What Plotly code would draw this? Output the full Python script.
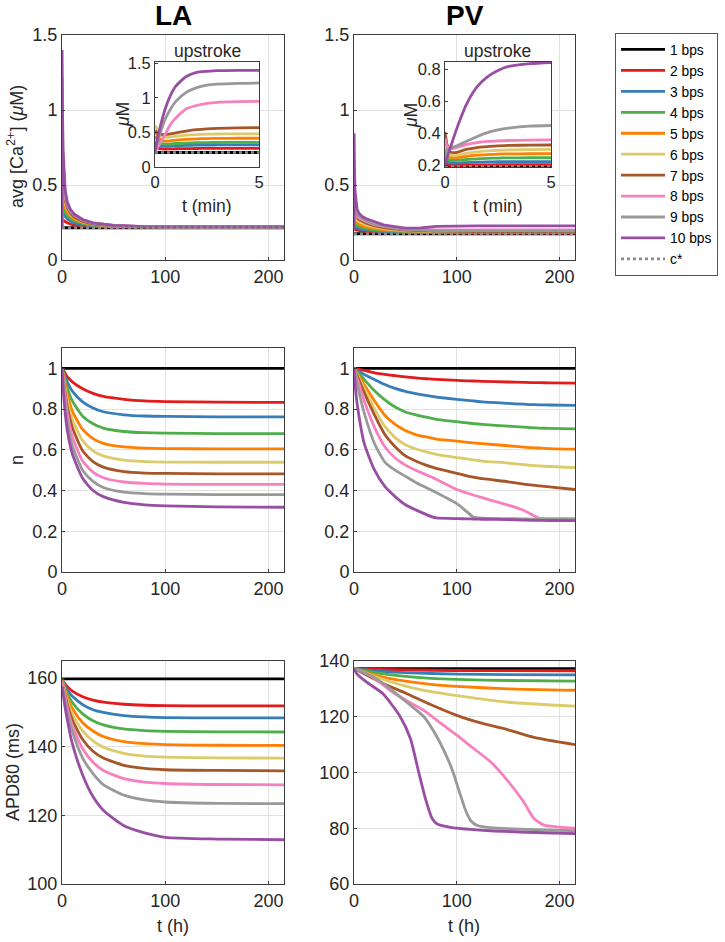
import plotly.graph_objects as go

W, H = 725, 942
FONT = "Liberation Sans, Arial, Helvetica, sans-serif"
TXT = "#262626"

NAMES = ["1 bps", "2 bps", "3 bps", "4 bps", "5 bps", "6 bps", "7 bps", "8 bps", "9 bps", "10 bps"]
COLORS = ["#000000", "#e41a1c", "#377eb8", "#4daf4a", "#ff7f00", "#dccb6a",
          "#a65628", "#f781bf", "#999999", "#984ea3"]

# ---------------- Ca, LA (main, hours) ----------------
T_CA_LA = [0, 0.083, 0.5, 1, 2, 3, 5, 8, 12, 20, 30, 50, 80, 120, 215]
CA_LA = [
    [0.215] * 15,
    [0.28, 0.27, 0.268, 0.265, 0.26, 0.255, 0.248, 0.24, 0.233, 0.226, 0.222, 0.22, 0.22, 0.22, 0.22],
    [0.36, 0.32, 0.315, 0.31, 0.30, 0.29, 0.275, 0.26, 0.248, 0.235, 0.227, 0.222, 0.22, 0.22, 0.22],
    [0.42, 0.357, 0.35, 0.345, 0.33, 0.318, 0.298, 0.278, 0.262, 0.243, 0.232, 0.224, 0.221, 0.22, 0.22],
    [0.50, 0.416, 0.40, 0.39, 0.37, 0.35, 0.32, 0.295, 0.272, 0.25, 0.236, 0.225, 0.221, 0.22, 0.22],
    [0.60, 0.48, 0.45, 0.43, 0.40, 0.375, 0.34, 0.305, 0.28, 0.254, 0.238, 0.226, 0.222, 0.22, 0.22],
    [0.53, 0.57, 0.52, 0.48, 0.43, 0.395, 0.35, 0.312, 0.285, 0.257, 0.24, 0.227, 0.222, 0.22, 0.22],
    [0.22, 0.95, 0.75, 0.60, 0.48, 0.42, 0.365, 0.325, 0.297, 0.266, 0.246, 0.23, 0.223, 0.22, 0.22],
    [0.22, 1.216, 0.90, 0.68, 0.52, 0.44, 0.375, 0.33, 0.30, 0.267, 0.246, 0.23, 0.223, 0.22, 0.22],
    [0.22, 1.40, 1.00, 0.74, 0.56, 0.47, 0.39, 0.34, 0.305, 0.27, 0.248, 0.231, 0.223, 0.22, 0.22],
]
CSTAR_LA = 0.215

# ---------------- Ca, PV (main, hours) ----------------
T_CA_PV = [0, 0.083, 0.5, 1, 2, 3, 5, 8, 12, 20, 30, 50, 65, 80, 120, 215]
CA_PV = [
    [0.175] * 16,
    [0.23, 0.204, 0.203, 0.202, 0.2, 0.198, 0.195, 0.192, 0.19, 0.187, 0.185, 0.182, 0.181, 0.18, 0.18, 0.18],
    [0.26, 0.224, 0.222, 0.22, 0.216, 0.213, 0.208, 0.203, 0.198, 0.193, 0.19, 0.186, 0.185, 0.184, 0.184, 0.184],
    [0.29, 0.248, 0.244, 0.24, 0.235, 0.23, 0.222, 0.215, 0.208, 0.2, 0.195, 0.189, 0.187, 0.186, 0.186, 0.186],
    [0.32, 0.274, 0.268, 0.262, 0.255, 0.248, 0.238, 0.229, 0.22, 0.209, 0.201, 0.192, 0.19, 0.188, 0.188, 0.188],
    [0.35, 0.30, 0.29, 0.283, 0.273, 0.265, 0.255, 0.244, 0.233, 0.219, 0.208, 0.196, 0.192, 0.19, 0.189, 0.189],
    [0.41, 0.328, 0.31, 0.30, 0.29, 0.282, 0.27, 0.258, 0.245, 0.228, 0.215, 0.2, 0.195, 0.192, 0.19, 0.19],
    [0.37, 0.36, 0.33, 0.31, 0.295, 0.288, 0.28, 0.268, 0.255, 0.235, 0.222, 0.205, 0.2, 0.2, 0.2, 0.2],
    [0.22, 0.45, 0.38, 0.34, 0.31, 0.30, 0.29, 0.275, 0.26, 0.24, 0.225, 0.205, 0.2, 0.197, 0.196, 0.195],
    [0.20, 0.845, 0.60, 0.46, 0.37, 0.34, 0.31, 0.29, 0.275, 0.255, 0.232, 0.213, 0.214, 0.224, 0.227, 0.227],
]
CSTAR_PV = 0.175

# ---------------- upstroke insets (minutes) ----------------
T_UP = [0, 0.1, 0.25, 0.5, 0.75, 1, 1.5, 2, 2.5, 3, 4, 5]
UP_LA = [
    [0.21] * 12,
    [0.29, 0.28, 0.265, 0.26, 0.262, 0.264, 0.266, 0.268, 0.269, 0.27, 0.27, 0.27],
    [0.37, 0.34, 0.31, 0.30, 0.303, 0.308, 0.313, 0.316, 0.318, 0.319, 0.32, 0.32],
    [0.44, 0.40, 0.35, 0.33, 0.333, 0.34, 0.347, 0.351, 0.354, 0.355, 0.357, 0.357],
    [0.52, 0.46, 0.40, 0.375, 0.38, 0.39, 0.40, 0.408, 0.412, 0.414, 0.416, 0.416],
    [0.60, 0.55, 0.47, 0.43, 0.435, 0.445, 0.46, 0.47, 0.475, 0.478, 0.48, 0.48],
    [0.53, 0.50, 0.475, 0.47, 0.48, 0.495, 0.52, 0.54, 0.553, 0.56, 0.567, 0.57],
    [0.22, 0.27, 0.35, 0.48, 0.62, 0.71, 0.84, 0.89, 0.92, 0.935, 0.945, 0.95],
    [0.22, 0.34, 0.49, 0.70, 0.84, 0.95, 1.08, 1.15, 1.185, 1.20, 1.212, 1.216],
    [0.22, 0.38, 0.58, 0.85, 1.04, 1.17, 1.31, 1.37, 1.385, 1.395, 1.40, 1.40],
]
CSTAR_UP_LA = 0.21
UP_PV = [
    [0.193] * 12,
    [0.23, 0.205, 0.2, 0.2, 0.201, 0.202, 0.203, 0.203, 0.204, 0.204, 0.204, 0.204],
    [0.26, 0.225, 0.215, 0.214, 0.216, 0.218, 0.22, 0.222, 0.223, 0.224, 0.224, 0.224],
    [0.29, 0.245, 0.232, 0.231, 0.234, 0.237, 0.241, 0.244, 0.246, 0.247, 0.248, 0.248],
    [0.32, 0.27, 0.25, 0.248, 0.252, 0.257, 0.264, 0.268, 0.271, 0.272, 0.273, 0.274],
    [0.35, 0.29, 0.265, 0.262, 0.268, 0.275, 0.285, 0.291, 0.295, 0.297, 0.299, 0.30],
    [0.41, 0.33, 0.285, 0.28, 0.29, 0.30, 0.312, 0.318, 0.322, 0.325, 0.327, 0.328],
    [0.37, 0.32, 0.305, 0.31, 0.32, 0.33, 0.342, 0.35, 0.354, 0.356, 0.358, 0.36],
    [0.22, 0.30, 0.31, 0.32, 0.335, 0.35, 0.38, 0.405, 0.422, 0.433, 0.446, 0.45],
    [0.20, 0.25, 0.31, 0.41, 0.50, 0.58, 0.69, 0.755, 0.795, 0.82, 0.838, 0.845],
]
CSTAR_UP_PV = 0.193

# ---------------- n, LA ----------------
T_N_LA = [0, 2, 5, 10, 20, 30, 40, 60, 80, 100, 150, 215]
N_LA = [
    [1.0] * 12,
    [1, 0.985, 0.96, 0.934, 0.90, 0.877, 0.862, 0.848, 0.840, 0.837, 0.834, 0.833],
    [1, 0.975, 0.935, 0.888, 0.835, 0.805, 0.787, 0.772, 0.766, 0.764, 0.762, 0.762],
    [1, 0.962, 0.905, 0.84, 0.765, 0.728, 0.707, 0.69, 0.684, 0.682, 0.680, 0.680],
    [1, 0.95, 0.875, 0.79, 0.70, 0.655, 0.632, 0.614, 0.608, 0.606, 0.605, 0.605],
    [1, 0.935, 0.845, 0.75, 0.645, 0.595, 0.57, 0.549, 0.542, 0.540, 0.539, 0.539],
    [1, 0.92, 0.815, 0.71, 0.595, 0.542, 0.515, 0.493, 0.486, 0.484, 0.482, 0.482],
    [1, 0.905, 0.785, 0.665, 0.545, 0.49, 0.463, 0.442, 0.435, 0.432, 0.430, 0.430],
    [1, 0.88, 0.745, 0.62, 0.50, 0.445, 0.415, 0.392, 0.385, 0.382, 0.380, 0.380],
    [1, 0.84, 0.70, 0.58, 0.46, 0.40, 0.37, 0.342, 0.330, 0.325, 0.320, 0.318],
]

# ---------------- n, PV ----------------
T_N_PV = [0, 2, 5, 10, 20, 30, 40, 50, 60, 70, 76, 80, 100, 110, 116, 125, 150, 165, 172, 180, 190, 215]
N_PV = [
    [1.0] * 22,
    [1, 0.998, 0.995, 0.99, 0.978, 0.97, 0.964, 0.958, 0.953, 0.949, 0.947, 0.946, 0.941, 0.939, 0.938, 0.936, 0.933, 0.931, 0.93, 0.93, 0.929, 0.928],
    [1, 0.995, 0.985, 0.97, 0.945, 0.921, 0.902, 0.887, 0.876, 0.867, 0.862, 0.859, 0.848, 0.843, 0.84, 0.835, 0.828, 0.824, 0.822, 0.821, 0.82, 0.818],
    [1, 0.99, 0.975, 0.945, 0.89, 0.845, 0.81, 0.786, 0.772, 0.76, 0.754, 0.75, 0.738, 0.732, 0.729, 0.725, 0.716, 0.711, 0.709, 0.707, 0.705, 0.703],
    [1, 0.985, 0.96, 0.92, 0.84, 0.77, 0.725, 0.695, 0.675, 0.663, 0.657, 0.653, 0.643, 0.637, 0.634, 0.63, 0.62, 0.613, 0.611, 0.609, 0.606, 0.603],
    [1, 0.98, 0.95, 0.90, 0.80, 0.715, 0.66, 0.625, 0.605, 0.59, 0.583, 0.578, 0.562, 0.555, 0.551, 0.545, 0.535, 0.527, 0.524, 0.521, 0.518, 0.513],
    [1, 0.975, 0.94, 0.88, 0.77, 0.675, 0.615, 0.57, 0.545, 0.525, 0.515, 0.509, 0.484, 0.472, 0.466, 0.458, 0.443, 0.432, 0.428, 0.423, 0.418, 0.405],
    [1, 0.965, 0.92, 0.84, 0.71, 0.615, 0.56, 0.525, 0.50, 0.478, 0.465, 0.456, 0.405, 0.388, 0.378, 0.365, 0.328, 0.303, 0.285, 0.265, 0.262, 0.262],
    [1, 0.95, 0.88, 0.78, 0.63, 0.54, 0.50, 0.47, 0.44, 0.415, 0.40, 0.39, 0.336, 0.295, 0.27, 0.264, 0.262, 0.261, 0.26, 0.26, 0.26, 0.259],
    [1, 0.87, 0.76, 0.63, 0.50, 0.42, 0.37, 0.33, 0.305, 0.283, 0.271, 0.266, 0.262, 0.261, 0.26, 0.259, 0.257, 0.255, 0.254, 0.254, 0.253, 0.252],
]

# ---------------- APD80, LA ----------------
T_APD_LA = [0, 2, 5, 10, 20, 30, 40, 60, 80, 100, 150, 215]
APD_LA = [
    [159.8] * 12,
    [159.5, 158.7, 157.6, 156.2, 154.6, 153.6, 153.0, 152.4, 152.1, 152.0, 151.9, 151.9],
    [159.5, 158.4, 156.7, 154.7, 152.3, 150.8, 150.0, 149.1, 148.7, 148.5, 148.4, 148.4],
    [159.4, 157.9, 155.6, 152.9, 149.6, 147.6, 146.4, 145.2, 144.7, 144.5, 144.35, 144.3],
    [159.3, 157.4, 154.6, 151.2, 147.0, 144.6, 143.0, 141.5, 140.9, 140.6, 140.45, 140.4],
    [159.2, 157.0, 153.6, 149.5, 144.6, 141.7, 139.9, 138.1, 137.3, 137.0, 136.75, 136.7],
    [159.1, 156.5, 152.6, 147.9, 142.1, 138.7, 136.7, 134.6, 133.7, 133.3, 133.1, 133.0],
    [159.0, 156.0, 151.5, 146.1, 139.4, 135.5, 133.1, 130.7, 129.7, 129.3, 129.0, 128.9],
    [158.0, 155.0, 150.1, 144.5, 136.7, 132.2, 129.0, 125.9, 124.5, 123.9, 123.5, 123.4],
    [157.5, 153.5, 148.1, 140.9, 131.8, 125.5, 121.5, 117.0, 114.9, 113.6, 113.1, 112.9],
]

# ---------------- APD80, PV (own time samples per rate) ----------------
T_APD_PV = [
    [0, 215],
    [0, 25, 50, 100, 150, 215],
    [0, 25, 50, 100, 150, 215],
    [0, 25, 50, 75, 100, 150, 215],
    [0, 25, 50, 75, 100, 150, 215],
    [0, 25, 50, 75, 100, 150, 215],
    [0, 25, 50, 75, 100, 125, 150, 175, 215],
    [0, 10, 20, 35, 50, 68, 85, 100, 115, 133, 149, 165, 175, 185, 200, 215],
    [0, 19, 35, 51, 68, 78, 88, 96, 103, 109, 114, 120, 133, 215],
    [0, 2.6, 12, 28, 45, 55, 63, 70, 76, 81, 94, 133, 215],
]
APD_PV = [
    [137.3, 137.3],
    [137.3, 137.0, 136.8, 136.6, 136.55, 136.5],
    [137.3, 136.4, 135.8, 135.3, 135.1, 135.0],
    [137.3, 135.6, 134.5, 133.8, 133.4, 133.0, 132.8],
    [137.3, 134.5, 132.8, 131.6, 130.9, 130.0, 129.5],
    [137.3, 133.8, 131.0, 129.0, 127.6, 125.2, 123.8],
    [137.3, 132.5, 128.5, 124.3, 120.5, 117.6, 115.3, 112.6, 110.0],
    [137.3, 135.8, 133.8, 129.5, 126.0, 122.3, 117.5, 113.4, 109.0, 103.8, 97.3, 89.5, 83.5, 81.1, 80.4, 80.0],
    [137.3, 134.3, 130.1, 125.3, 120.0, 114.5, 107.5, 100.5, 92.5, 86.0, 82.5, 81.0, 80.2, 79.1],
    [137.3, 135.5, 132.5, 128.3, 120.0, 112.0, 100.0, 90.0, 83.5, 81.5, 80.3, 79.1, 78.1],
]

X_TICKS = [0, 100, 200]

# ---------------- layout geometry (pixels) ----------------
def dx(a, b):
    return [a / W, b / W]


def dy(top, bottom):
    return [1 - bottom / H, 1 - top / H]


COLX = [dx(62, 284), dx(354, 575)]
ROWY = [dy(35, 260), dy(348, 572), dy(661, 884)]
INSET_X = [dx(155, 259), dx(445, 551)]
INSET_Y = dy(62, 167)

fig = go.Figure()


def add_lines(tlist, vlists, ax, shape="spline", legend=False, width=2.8, per_series_t=False):
    for i, (v, c, nm) in enumerate(zip(vlists, COLORS, NAMES)):
        t = tlist[i] if per_series_t else tlist
        fig.add_trace(go.Scatter(
            x=t, y=v, mode="lines", name=nm,
            line=dict(color=c, width=width, shape=shape, smoothing=0.6 if shape == "spline" else None),
            xaxis="x" + ax, yaxis="y" + ax, showlegend=legend, hoverinfo="skip",
        ))


def add_cstar(xs, val, ax, legend=False):
    fig.add_trace(go.Scatter(
        x=xs, y=[val, val], mode="lines", name="c*",
        line=dict(color="#8a8a8a", width=2.6, dash="dot"),
        xaxis="x" + ax, yaxis="y" + ax, showlegend=legend, hoverinfo="skip",
    ))


# subplot 1: Ca LA ; 2: Ca PV ; 3: n LA ; 4: n PV ; 5: APD LA ; 6: APD PV ; 7/8 insets
add_lines(T_CA_LA, CA_LA, "", shape="linear", legend=True)
add_cstar([0, 215], CSTAR_LA, "", legend=True)
add_lines(T_CA_PV, CA_PV, "2", shape="linear")
add_cstar([0, 215], CSTAR_PV, "2")
add_lines(T_N_LA, N_LA, "3")
add_lines(T_N_PV, N_PV, "4")
add_lines(T_APD_LA, APD_LA, "5")
add_lines(T_APD_PV, APD_PV, "6", per_series_t=True)
add_lines(T_UP, UP_LA, "7")
add_cstar([0, 5], CSTAR_UP_LA, "7")
add_lines(T_UP, UP_PV, "8")
add_cstar([0, 5], CSTAR_UP_PV, "8")

axis_common = dict(
    showline=True, mirror=True, linecolor="#3c3c3c", linewidth=1,
    zeroline=False, ticks="inside", ticklen=3, tickcolor="#3c3c3c",
    tickfont=dict(family=FONT, size=18, color=TXT),
    showgrid=True, gridcolor="#e2e2e2", gridwidth=1,
)

layout = dict(
    width=W, height=H, margin=dict(l=0, r=0, t=0, b=0, autoexpand=False),
    paper_bgcolor="white", plot_bgcolor="white",
    font=dict(family=FONT, size=18, color=TXT),
    showlegend=True,
    legend=dict(
        x=615 / W, y=1 - 33 / H, xanchor="left", yanchor="top",
        bgcolor="white", bordercolor="#555555", borderwidth=1,
        font=dict(family=FONT, size=13.8, color="#000000"),
        itemwidth=44, tracegroupgap=0,
    ),
)

main = [
    ("", 0, 0, [0, 1.5], [0, 0.5, 1, 1.5], ["0", "0.5", "1", "1.5"]),
    ("2", 1, 0, [0, 1.5], [0, 0.5, 1, 1.5], ["0", "0.5", "1", "1.5"]),
    ("3", 0, 1, [0, 1.1], [0, 0.2, 0.4, 0.6, 0.8, 1], ["0", "0.2", "0.4", "0.6", "0.8", "1"]),
    ("4", 1, 1, [0, 1.1], [0, 0.2, 0.4, 0.6, 0.8, 1], ["0", "0.2", "0.4", "0.6", "0.8", "1"]),
    ("5", 0, 2, [100, 165], [100, 120, 140, 160], ["100", "120", "140", "160"]),
    ("6", 1, 2, [60, 140], [60, 80, 100, 120, 140], ["60", "80", "100", "120", "140"]),
]
for ax, c, r, yr, yt, ytt in main:
    xa = dict(axis_common, domain=COLX[c], range=[0, 215], tickvals=X_TICKS,
              ticktext=[str(v) for v in X_TICKS], anchor="y" + ax)
    ya = dict(axis_common, domain=ROWY[r], range=yr, tickvals=yt, ticktext=ytt,
              anchor="x" + ax)
    layout["xaxis" + ax] = xa
    layout["yaxis" + ax] = ya

inset_common = dict(axis_common, showgrid=False, tickfont=dict(family=FONT, size=16.5, color=TXT))
layout["xaxis7"] = dict(inset_common, domain=INSET_X[0], range=[0, 5], tickvals=[0, 5], anchor="y7")
layout["yaxis7"] = dict(inset_common, domain=INSET_Y, range=[0, 1.52], tickvals=[0, 0.5, 1, 1.5],
                        ticktext=["0", "0.5", "1", "1.5"], anchor="x7")
layout["xaxis8"] = dict(inset_common, domain=INSET_X[1], range=[0, 5], tickvals=[0, 5], anchor="y8")
layout["yaxis8"] = dict(inset_common, domain=INSET_Y, range=[0.19, 0.848], tickvals=[0.2, 0.4, 0.6, 0.8],
                        ticktext=["0.2", "0.4", "0.6", "0.8"], anchor="x8")

fig.update_layout(**layout)


def ann(text, x, y, size=18, angle=0, bold=False):
    fig.add_annotation(
        text=("<b>%s</b>" % text) if bold else text,
        x=x / W, y=1 - y / H, xref="paper", yref="paper",
        xanchor="center", yanchor="middle", showarrow=False, textangle=angle,
        font=dict(family=FONT, size=size, color="#000000" if bold else TXT),
    )


ann("LA", 173, 16, size=28, bold=True)
ann("PV", 465, 16, size=28, bold=True)
ann("upstroke", 207, 51, size=17.5)
ann("upstroke", 498, 51, size=17.5)
ann("t (min)", 207, 206, size=17.5)
ann("t (min)", 498, 206, size=17.5)
ann("<i>μ</i>M", 123, 115, size=17.5, angle=-90)
ann("<i>μ</i>M", 411, 115, size=17.5, angle=-90)
ann("avg [Ca<sup>2+</sup>] (<i>μ</i>M)", 16, 147, size=18, angle=-90)
ann("n", 17, 460, size=18, angle=-90)
ann("APD80 (ms)", 13, 772, size=18, angle=-90)
ann("t (h)", 173, 926, size=18)
ann("t (h)", 464, 926, size=18)

fig.write_html(
    "out.html",
    config={"displayModeBar": False},
    post_script="document.body.style.margin='0';document.body.style.padding='0';"
                "document.documentElement.style.overflow='hidden';",
)
